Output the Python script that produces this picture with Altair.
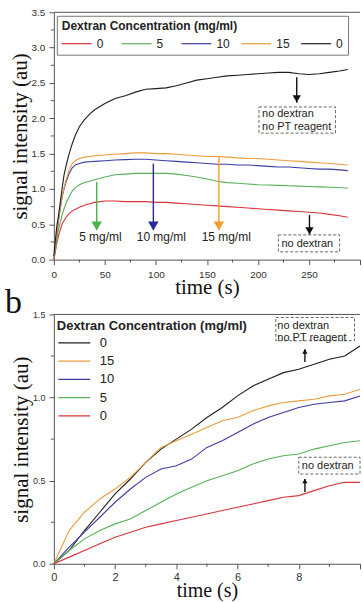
import altair as alt
import pandas as pd

# ---------------- panel a : 0-300 s ----------------
time_a = [0, 1, 2, 3, 4.5, 6, 8, 10, 12, 15, 18, 21, 25, 30, 35, 40,
          50, 60, 70, 80, 90, 100, 110, 120, 130, 140, 150, 160, 170, 180,
          190, 200, 210, 220, 230, 240, 250, 260, 270, 280, 288]
keys_a = ["0", "5", "10", "15", "0 noPT"]
colors_a = ["#d8343c", "#58b158", "#3c3ca6", "#eb9d3c", "#1e1e1e"]
red_a = [0.0, 0.08, 0.16, 0.24, 0.33, 0.41, 0.5, 0.55, 0.6, 0.65,
         0.69, 0.71, 0.74, 0.77, 0.79, 0.81,
         0.83, 0.83, 0.82, 0.82, 0.82, 0.81, 0.81, 0.8, 0.79, 0.78, 0.77, 0.76,
         0.75, 0.74, 0.73, 0.72, 0.71, 0.7, 0.69, 0.68, 0.67, 0.66, 0.64, 0.62, 0.6]
green_a = [0.02, 0.08, 0.18, 0.28, 0.42, 0.51, 0.63, 0.72, 0.8, 0.89,
           0.97, 1.02, 1.06, 1.09, 1.11, 1.13,
           1.17, 1.2, 1.21, 1.22, 1.22, 1.22, 1.22, 1.21, 1.19, 1.17, 1.14, 1.11,
           1.09, 1.08, 1.07, 1.06, 1.055, 1.05, 1.045, 1.04, 1.035, 1.03, 1.025, 1.02, 1.01]
blue_a = [0.02, 0.12, 0.25, 0.37, 0.55, 0.69, 0.88, 1.0, 1.1, 1.22,
          1.3, 1.34, 1.36, 1.38, 1.385, 1.39,
          1.4, 1.41, 1.415, 1.42, 1.42, 1.41, 1.4, 1.39, 1.38, 1.37, 1.36, 1.35,
          1.35, 1.34, 1.34, 1.33, 1.32, 1.31, 1.31, 1.3, 1.29, 1.28, 1.28, 1.27, 1.26]
orange_a = [0.02, 0.12, 0.26, 0.38, 0.56, 0.7, 0.89, 1.02, 1.13, 1.27,
            1.36, 1.4, 1.43, 1.45, 1.46, 1.47,
            1.48, 1.49, 1.5, 1.51, 1.51, 1.5, 1.5, 1.49, 1.48, 1.47, 1.46, 1.46,
            1.45, 1.44, 1.43, 1.43, 1.42, 1.41, 1.4, 1.39, 1.38, 1.37, 1.36, 1.35, 1.34]
black_a = [0.05, 0.2, 0.35, 0.48, 0.62, 0.78, 1.0, 1.2, 1.33, 1.5,
           1.64, 1.76, 1.88, 1.98, 2.06, 2.12,
           2.21, 2.28, 2.32, 2.37, 2.41, 2.42, 2.43, 2.46, 2.5, 2.54, 2.56, 2.58,
           2.6, 2.61, 2.62, 2.63, 2.64, 2.65, 2.65, 2.63, 2.62, 2.63, 2.65, 2.67, 2.69]

arrow_t_a = [238, 42, 97.5, 161.7, 250.5]
arrow_top_a = [2.58, 1.10, 1.36, 1.45, 0.63]
arrow_tip_a = [2.22, 0.42, 0.42, 0.42, 0.35]
arrow_col_a = ["#111111", "#4db24a", "#27279a", "#f0a030", "#111111"]
arrow_head_a = [70, 110, 110, 110, 70]

label_text_a = ["5 mg/ml", "10 mg/ml", "15 mg/ml"]
label_t_a = [45.6, 105.3, 168.9]
label_v_a = [0.32, 0.32, 0.32]

box_t1_a = [201, 220]
box_t2_a = [276, 280]
box_v1_a = [1.79, 0.11]
box_v2_a = [2.16, 0.35]
boxtext_a = ["no dextran", "no PT reagent", "no dextran"]
boxtext_t_a = [204, 204, 223]
boxtext_v_a = [2.066, 1.877, 0.225]

xticks_a = [0, 50, 100, 150, 200, 250, 300]
yticks_a = [0.0, 0.5, 1.0, 1.5, 2.0, 2.5, 3.0, 3.5]
xminor_a = [25, 75, 125, 175, 225, 275]
yminor_a = [0.25, 0.75, 1.25, 1.75, 2.25, 2.75, 3.25]

# ---------------- panel b : 0-10 s ----------------
time_b = [0, 0.5, 1, 1.5, 2, 2.5, 3, 3.5, 4, 4.5, 5, 5.5, 6, 6.5, 7, 7.5, 8, 8.5, 9, 9.5, 10]
keys_b = ["0 noPT", "15", "10", "5", "0"]
colors_b = ["#1e1e1e", "#eb9d3c", "#3c3ca6", "#58b158", "#d8343c"]
black_b = [0, 0.08, 0.2, 0.31, 0.42, 0.51, 0.61, 0.69, 0.75, 0.81, 0.88,
           0.94, 1.01, 1.07, 1.11, 1.15, 1.17, 1.2, 1.23, 1.25, 1.31]
orange_b = [0, 0.2, 0.31, 0.39, 0.45, 0.52, 0.61, 0.7, 0.74, 0.78, 0.82,
            0.86, 0.88, 0.92, 0.95, 0.97, 0.98, 0.99, 1.01, 1.02, 1.05]
blue_b = [0, 0.1, 0.19, 0.28, 0.37, 0.45, 0.52, 0.57, 0.59, 0.63, 0.7,
          0.74, 0.79, 0.84, 0.88, 0.91, 0.94, 0.96, 0.97, 0.98, 1.01]
green_b = [0, 0.08, 0.15, 0.2, 0.24, 0.27, 0.32, 0.37, 0.42, 0.46, 0.5,
           0.53, 0.56, 0.6, 0.63, 0.65, 0.66, 0.69, 0.71, 0.73, 0.74]
red_b = [0, 0.04, 0.08, 0.12, 0.16, 0.19, 0.22, 0.24, 0.26, 0.28, 0.3,
         0.32, 0.34, 0.36, 0.38, 0.4, 0.41, 0.44, 0.47, 0.49, 0.49]

arrow_t_b = [8.2, 8.2]
arrow_top_b = [1.214, 0.432]
arrow_tip_b = [1.29, 0.51]

box_t1_b = [7.25, 8.0]
box_t2_b = [9.82, 10.0]
box_v1_b = [1.342, 0.54]
box_v2_b = [1.482, 0.641]
boxtext_b = ["no dextran", "no PT reagent", "no dextran"]
boxtext_t_b = [7.3, 7.3, 8.1]
boxtext_v_b = [1.428, 1.361, 0.59]

xticks_b = [0, 2, 4, 6, 8, 10]
yticks_b = [0.0, 0.5, 1.0, 1.5]
xminor_b = [1, 3, 5, 7, 9]
yminor_b = [0.25, 0.75, 1.25]

# ---------------- styling ----------------
W, HA, HB = 307, 248, 250
SERIF = "Liberation Serif"
SANS = "Liberation Sans"
AX = "#555555"
TXT = "#222222"


def long_df(times, keys, series):
    rows = []
    for k, vals in zip(keys, series):
        for t, v in zip(times, vals):
            rows.append({"t": t, "v": v, "conc": k})
    return pd.DataFrame(rows)


def x_axis(values, last, fs, lab_pad, title_size, title_pad):
    # the last tick label falls at the cropped right edge of the figure
    return alt.Axis(values=values, tickCount=30, format="d", labelFlush=False,
                    labelOverlap=False,
                    labelExpr=f"datum.value >= {last} ? '' : datum.label",
                    title="time (s)", titleFont=SERIF, titleFontSize=title_size,
                    titleFontWeight="normal", titleColor="#111111", titlePadding=title_pad,
                    labelFont=SANS, labelFontSize=fs, labelColor="#333333",
                    labelPadding=lab_pad, tickSize=5, tickColor=AX, domainColor=AX,
                    grid=False)


def y_axis(values, fs, title_size):
    return alt.Axis(values=values, tickCount=30, format=".1f", labelFlush=False,
                    labelOverlap=False,
                    title="signal intensity (au)", titleFont=SERIF, titleFontSize=title_size,
                    titleFontWeight="normal", titleColor="#111111", titlePadding=1,
                    labelFont=SANS, labelFontSize=fs, labelColor="#333333",
                    labelPadding=4, tickSize=5, tickColor=AX, domainColor=AX, grid=False)


def panel(df_lines, keys, colors, legend, xdom, ydom, xaxis, yaxis, H,
          arrows, head_shape, head_off, labels, boxes, boxtexts, box_fs,
          xminor, yminor, tag, tag_y):
    x = alt.X("t:Q", scale=alt.Scale(domain=xdom, nice=False, zero=False), axis=xaxis)
    y = alt.Y("v:Q", scale=alt.Scale(domain=ydom, nice=False, zero=False), axis=yaxis)
    lines = alt.Chart(df_lines).mark_line(strokeWidth=1.1).encode(
        x=x, y=y,
        color=alt.Color("conc:N", scale=alt.Scale(domain=keys, range=colors), legend=legend),
    )
    layers = [lines]
    rules = alt.Chart(arrows).mark_rule(strokeWidth=1.4).encode(
        x="t:Q", y="v:Q", y2="v2:Q", stroke=alt.Stroke("col:N", scale=None))
    heads = alt.Chart(arrows).mark_point(filled=True, shape=head_shape, opacity=1,
                                         yOffset=head_off, strokeWidth=0).encode(
        x="t:Q", y="v2:Q", fill=alt.Fill("col:N", scale=None),
        size=alt.Size("head:Q", scale=None))
    layers += [rules, heads]
    if labels is not None:
        layers.append(alt.Chart(labels).mark_text(font=SANS, fontSize=12, color=TXT).encode(
            x="t:Q", y="v:Q", text="txt:N"))
    layers.append(alt.Chart(boxes).mark_rect(fill="white", fillOpacity=0, stroke="#666666",
                                             strokeDash=[3, 2], strokeWidth=1).encode(
        x="t:Q", x2="t2:Q", y="v:Q", y2="v2:Q"))
    layers.append(alt.Chart(boxtexts).mark_text(font=SANS, fontSize=box_fs, color=TXT,
                                                align="left").encode(
        x="t:Q", y="v:Q", text="txt:N"))
    layers.append(alt.Chart(pd.DataFrame({"t": xminor})).mark_rule(color=AX).encode(
        x="t:Q", y=alt.value(H), y2=alt.value(H + 3)))
    layers.append(alt.Chart(pd.DataFrame({"v": yminor})).mark_rule(color=AX).encode(
        y="v:Q", x=alt.value(0), x2=alt.value(-3)))
    layers.append(alt.Chart(pd.DataFrame({"k": [0]})).mark_rule(color=AX).encode(
        x=alt.value(0), x2=alt.value(W), y=alt.value(0)))
    if tag:
        layers.append(alt.Chart(pd.DataFrame({"txt": [tag]})).mark_text(
            font=SERIF, fontSize=34, color="#111111", align="left",
            baseline="alphabetic").encode(
            x=alt.value(-49), y=alt.value(tag_y), text="txt:N"))
    return alt.layer(*layers).properties(width=W, height=H)


df_a = long_df(time_a, keys_a, [red_a, green_a, blue_a, orange_a, black_a])
df_b = long_df(time_b, keys_b, [black_b, orange_b, blue_b, green_b, red_b])

arrows_a = pd.DataFrame({"t": arrow_t_a, "v": arrow_top_a, "v2": arrow_tip_a,
                         "col": arrow_col_a, "head": arrow_head_a})
arrows_b = pd.DataFrame({"t": arrow_t_b, "v": arrow_top_b, "v2": arrow_tip_b,
                         "col": ["#111111", "#111111"], "head": [28, 28]})
labels_a = pd.DataFrame({"t": label_t_a, "v": label_v_a, "txt": label_text_a})
boxes_a = pd.DataFrame({"t": box_t1_a, "t2": box_t2_a, "v": box_v1_a, "v2": box_v2_a})
boxes_b = pd.DataFrame({"t": box_t1_b, "t2": box_t2_b, "v": box_v1_b, "v2": box_v2_b})
btext_a = pd.DataFrame({"t": boxtext_t_a, "v": boxtext_v_a, "txt": boxtext_a})
btext_b = pd.DataFrame({"t": boxtext_t_b, "v": boxtext_v_b, "txt": boxtext_b})

LEGEND_TITLE = "Dextran Concentration (mg/ml)"
legend_a = alt.Legend(
    title=LEGEND_TITLE, orient="none", legendX=3, legendY=3.5, direction="horizontal",
    columns=5, gridAlign="all", columnPadding=8,
    symbolType="M-3,0H3", symbolSize=100, symbolStrokeWidth=1.2, symbolOffset=9,
    labelOffset=14, labelFont=SANS, labelFontSize=12, labelColor=TXT,
    titleFont=SANS, titleFontSize=12, titleFontWeight="bold", titleColor=TXT,
    titlePadding=5, titleLimit=400, padding=5, strokeColor="#777777", fillColor="white",
    labelExpr="split(datum.label, ' ')[0]")
legend_b = alt.Legend(
    title=LEGEND_TITLE, orient="none", legendX=3, legendY=5.5, direction="vertical",
    symbolType="M-3.2,0H3.2", symbolSize=100, symbolStrokeWidth=1.1, symbolOffset=11,
    labelOffset=19, labelFont=SANS, labelFontSize=13, labelColor=TXT,
    titleFont=SANS, titleFontSize=13, titleFontWeight="bold", titleColor=TXT,
    titlePadding=3.5, titleLimit=400, rowPadding=4.3, padding=0,
    labelExpr="split(datum.label, ' ')[0]")

panel_a = panel(df_a, keys_a, colors_a, legend_a, [0, 300], [0, 3.5],
                x_axis(xticks_a, 300, 10, 5, 21, -3), y_axis(yticks_a, 10, 21), HA,
                arrows_a, "triangle-down", -4, labels_a, boxes_a, btext_a, 11,
                xminor_a, yminor_a, "", 0)
panel_b = panel(df_b, keys_b, colors_b, legend_b, [0, 10], [0, 1.5],
                x_axis(xticks_b, 10, 11, 3, 20, -2), y_axis(yticks_b, 9, 21), HB,
                arrows_b, "triangle-up", 2, None, boxes_b, btext_b, 11,
                xminor_b, yminor_b, "b", -1.5)

chart = alt.vconcat(panel_a, panel_b, spacing=55, bounds="flush").resolve_scale(
    color="independent"
).properties(
    padding={"left": 5, "top": 6.5, "right": 0, "bottom": 0},
    background="white",
).configure_view(strokeWidth=0).configure_axis(labelOverlap=False)

chart.save("out.html", embed_options={"renderer": "svg", "actions": False})
